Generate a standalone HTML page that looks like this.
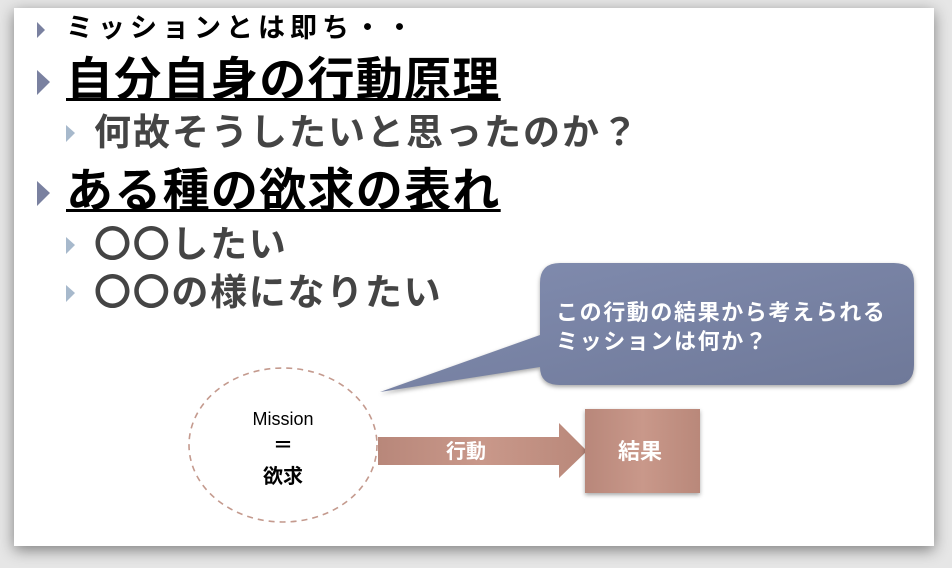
<!DOCTYPE html>
<html><head><meta charset="utf-8"><style>
body{margin:0;width:952px;height:568px;background:#e6e6e6;position:relative;overflow:hidden;font-family:"Liberation Sans","Noto Sans CJK JP",sans-serif}
.slide{position:absolute;left:14px;top:8px;width:920px;height:538px;background:#fff;box-shadow:0 4px 14px rgba(0,0,0,.45)}
.t{position:absolute;white-space:nowrap;font-weight:bold;line-height:1}
</style></head><body>
<div class="slide"></div>
<svg width="952" height="568" style="position:absolute;left:0;top:0">
<defs>
<linearGradient id="g1" x1="0" y1="0" x2="1" y2="1"><stop offset="0" stop-color="#828db0"/><stop offset="1" stop-color="#6e7898"/></linearGradient>
<linearGradient id="g2" x1="0" y1="0" x2="1" y2="0"><stop offset="0" stop-color="#b8877a"/><stop offset=".5" stop-color="#c9988a"/><stop offset="1" stop-color="#b9887a"/></linearGradient>
</defs>
<polygon points="37,22 45,30 37,38" fill="#7a81a0"/>
<polygon points="37,70 50,82 37,95" fill="#7a81a0"/>
<polygon points="37,181 50,193 37,206" fill="#7a81a0"/>
<polygon points="66,125 75,133 66,142" fill="#a7b9cc"/>
<polygon points="66,237 75,245 66,254" fill="#a7b9cc"/>
<polygon points="66,285 75,293 66,302" fill="#a7b9cc"/>
<path d="M560,263 H894 Q914,263 914,283 V365 Q914,385 894,385 H560 Q540,385 540,367 L380,392 L540,335 V283 Q540,263 560,263 Z" fill="url(#g1)" filter="drop-shadow(0 2px 2px rgba(0,0,0,.35))"/>
<ellipse cx="283" cy="445" rx="94" ry="77" fill="none" stroke="#c49a8e" stroke-width="1.6" stroke-dasharray="6,5"/>
<polygon points="378,437 559,437 559,423 587,451 559,478 559,465 378,465" fill="url(#g2)"/>
<rect x="585" y="409" width="115" height="84" fill="url(#g2)" filter="drop-shadow(0 2px 2px rgba(0,0,0,.35))"/>
</svg>
<div class="t" style="left:66px;top:15px;font-size:27px;letter-spacing:5px">ミッションとは即ち・・</div>
<div class="t" style="left:66px;top:56px;font-size:47px;letter-spacing:1.3px;text-decoration:underline;text-decoration-thickness:3px">自分自身の行動原理</div>
<div class="t" style="left:94px;top:114px;font-size:37px;letter-spacing:2px;color:#444">何故そうしたいと思ったのか？</div>
<div class="t" style="left:66px;top:167px;font-size:47px;letter-spacing:1.3px;text-decoration:underline;text-decoration-thickness:3px">ある種の欲求の表れ</div>
<div class="t" style="left:94px;top:226px;font-size:37px;letter-spacing:1.7px;color:#444">〇〇したい</div>
<div class="t" style="left:94px;top:274px;font-size:37px;letter-spacing:1.7px;color:#444">〇〇の様になりたい</div>
<div class="t" style="left:556px;top:298px;font-size:22px;letter-spacing:1.6px;color:#fff;line-height:29px">この行動の結果から考えられる<br>ミッションは何か？</div>
<div class="t" style="left:233px;top:410px;width:100px;text-align:center;font-size:18px;font-weight:normal">Mission</div>
<div class="t" style="left:233px;top:436px;width:100px;text-align:center;font-size:20px">＝</div>
<div class="t" style="left:233px;top:467px;width:100px;text-align:center;font-size:20px">欲求</div>
<div class="t" style="left:446px;top:442px;font-size:20px;color:#fff">行動</div>
<div class="t" style="left:618px;top:441px;font-size:22px;color:#fff">結果</div>
</body></html>
